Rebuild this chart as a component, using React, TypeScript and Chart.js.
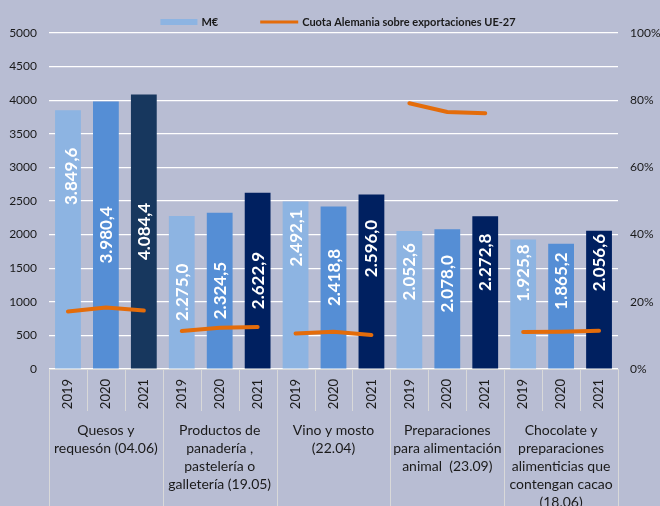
import { useEffect, useRef } from 'react';
import { Chart, registerables } from 'chart.js';
Chart.register(...registerables);

const groupLabels: string[][] = [
  ['Quesos y', 'requesón (04.06)'],
  ['Productos de', 'panadería ,', 'pastelería o', 'galletería (19.05)'],
  ['Vino y mosto', '(22.04)'],
  ['Preparaciones', 'para alimentación', 'animal  (23.09)'],
  ['Chocolate y', 'preparaciones', 'alimenticias que', 'contengan cacao', '(18.06)'],
];
const years = ['2019', '2020', '2021'];
const categories = groupLabels.flatMap(() => years);
const valuesMEur = [3849.6, 3980.4, 4084.4, 2275.0, 2324.5, 2622.9, 2492.1, 2418.8, 2596.0, 2052.6, 2078.0, 2272.8, 1925.8, 1865.2, 2056.6];
const shareGermany = [17.1, 18.3, 17.4, 11.3, 12.3, 12.5, 10.6, 11.1, 10.1, 79.1, 76.5, 76.1, 11.0, 11.1, 11.4];
const legendLabels = ['M€', 'Cuota Alemania sobre exportaciones UE-27'];
const leftTickMax = 5000;
const leftTickStep = 500;
const rightTickMax = 100;
const rightTickStep = 20;

const FONT = 'Lato, "Open Sans", sans-serif';
const BG = '#B8BDD3';
const yearColors = ['#8DB4E2', '#558ED5', '#002060'];
const firstGroupDark = '#17375E';
const ORANGE = '#E46C0A';

// manual label nudges (px, vertical) seen in the source
const labelNudges: Record<number, { x: number; y: number }> = {
  0: { x: 3, y: -63 },
  6: { x: 0, y: -47 },
  7: { x: 0, y: -10 },
  8: { x: 0, y: -33 },
  9: { x: 0, y: -28 },
  10: { x: 0, y: -15 },
  11: { x: 0, y: -30 },
  12: { x: 0, y: -31 },
  13: { x: 0, y: -25 },
  14: { x: 0, y: -37 },
};

const fmt = (v: number) => {
  const [i, d] = v.toFixed(1).split('.');
  return i.replace(/\B(?=(\d{3})+(?!\d))/g, '.') + ',' + d;
};

const bgPlugin = {
  id: 'bg',
  beforeDraw(chart: any) {
    const { ctx, width, height } = chart;
    ctx.save();
    ctx.fillStyle = BG;
    ctx.fillRect(0, 0, width, height);
    ctx.restore();
  },
};

const axisPlugin = {
  id: 'groupAxis',
  afterDraw(chart: any) {
    const { ctx, chartArea, height } = chart;
    const { left, right, bottom } = chartArea;
    const n = categories.length;
    const w = (right - left) / n;
    ctx.save();
    ctx.strokeStyle = '#D9D9D9';
    ctx.lineWidth = 1;
    ctx.beginPath();
    ctx.moveTo(left, bottom + 0.5);
    ctx.lineTo(right, bottom + 0.5);
    for (let i = 0; i <= n; i++) {
      const x = Math.round(left + i * w) + 0.5;
      ctx.moveTo(x, bottom);
      ctx.lineTo(x, i % 3 === 0 ? height : bottom + 42);
    }
    ctx.stroke();
    ctx.fillStyle = '#1a1a1a';
    ctx.font = `14px ${FONT}`;
    ctx.textAlign = 'center';
    ctx.textBaseline = 'middle';
    groupLabels.forEach((lines, g) => {
      const cx = left + (g * 3 + 1.5) * w;
      lines.forEach((t, k) => ctx.fillText(t, cx, bottom + 61 + k * 18));
    });
    ctx.restore();
  },
};

const legendPlugin = {
  id: 'customLegend',
  afterDraw(chart: any) {
    const { ctx } = chart;
    ctx.save();
    ctx.font = `bold 11px ${FONT}`;
    const w1 = ctx.measureText(legendLabels[0]).width;
    const w2 = ctx.measureText(legendLabels[1]).width;
    const total = 37 + 4 + w1 + 42 + 38 + 4 + w2;
    let x = 338 - total / 2;
    const y = 22;
    ctx.fillStyle = yearColors[0];
    ctx.fillRect(x, y - 3, 37, 6);
    x += 41;
    ctx.fillStyle = '#1a1a1a';
    ctx.textBaseline = 'middle';
    ctx.textAlign = 'left';
    ctx.fillText(legendLabels[0], x, y);
    x += w1 + 42;
    ctx.strokeStyle = ORANGE;
    ctx.lineWidth = 3;
    ctx.beginPath();
    ctx.moveTo(x, y);
    ctx.lineTo(x + 38, y);
    ctx.stroke();
    x += 42;
    ctx.fillText(legendLabels[1], x, y);
    ctx.restore();
  },
};

const labelPlugin = {
  id: 'barLabels',
  afterDatasetsDraw(chart: any) {
    const { ctx } = chart;
    const meta = chart.getDatasetMeta(1);
    ctx.save();
    ctx.fillStyle = '#FFFFFF';
    ctx.font = `bold 17px ${FONT}`;
    ctx.textAlign = 'center';
    ctx.textBaseline = 'alphabetic';
    meta.data.forEach((el: any, i: number) => {
      const off = labelNudges[i] || { x: 0, y: 0 };
      const cy = (el.y + el.base) / 2 + off.y;
      ctx.save();
      ctx.translate(el.x + off.x, cy);
      ctx.rotate(-Math.PI / 2);
      ctx.fillText(fmt(valuesMEur[i]), 0, 6);
      ctx.restore();
    });
    ctx.restore();
  },
};

export default function App() {
  const ref = useRef<HTMLCanvasElement>(null);
  useEffect(() => {
    const canvas = ref.current!;
    const chart = new Chart(canvas, {
      type: 'bar',
      data: {
        labels: categories,
        datasets: [
          {
            type: 'line',
            label: legendLabels[1],
            data: shareGermany,
            yAxisID: 'y1',
            borderColor: ORANGE,
            backgroundColor: ORANGE,
            borderWidth: 4,
            borderCapStyle: 'round',
            pointRadius: 0,
            tension: 0,
            order: 0,
            segment: {
              borderColor: (c: any) => (c.p0DataIndex % 3 === 2 ? 'rgba(0,0,0,0)' : ORANGE),
            },
          } as any,
          {
            type: 'bar',
            label: legendLabels[0],
            data: valuesMEur,
            yAxisID: 'y',
            backgroundColor: valuesMEur.map((_, i) => (i === 2 ? firstGroupDark : yearColors[i % 3])),
            barPercentage: 0.68,
            categoryPercentage: 1,
            order: 1,
          } as any,
        ],
      },
      options: {
        animation: false,
        responsive: true,
        maintainAspectRatio: false,
        layout: { padding: { top: 33, left: 0, right: 0, bottom: 0 } },
        font: { family: FONT },
        plugins: {
          legend: { display: false },
          tooltip: { enabled: false },
        },
        scales: {
          x: {
            grid: { display: false, drawTicks: false },
            border: { display: false },
            ticks: {
              autoSkip: false,
              minRotation: 90,
              maxRotation: 90,
              padding: 10,
              color: '#1a1a1a',
              font: { family: FONT, size: 13 },
            },
            afterFit: (s: any) => { s.height = 137; },
          },
          y: {
            position: 'left',
            min: 0,
            max: leftTickMax,
            ticks: {
              stepSize: leftTickStep,
              padding: 12,
              color: '#1a1a1a',
              font: { family: FONT, size: 12 },
              callback: (v: any) => String(v),
            },
            grid: { color: '#FFFFFF', lineWidth: 1.2, drawTicks: false },
            border: { display: false },
            afterFit: (s: any) => { s.width = 49; },
          },
          y1: {
            position: 'right',
            min: 0,
            max: rightTickMax,
            ticks: {
              stepSize: rightTickStep,
              padding: 12,
              color: '#1a1a1a',
              font: { family: FONT, size: 12 },
              callback: (v: any) => v + '%',
            },
            grid: { display: false, drawTicks: false },
            border: { display: false },
            afterFit: (s: any) => { s.width = 42; },
          },
        },
      } as any,
      plugins: [bgPlugin, axisPlugin, legendPlugin, labelPlugin],
    });
    return () => chart.destroy();
  }, []);
  return (
    <div style={{ position: 'fixed', left: 0, top: 0, width: 660, height: 506 }}>
      <canvas ref={ref} />
    </div>
  );
}
